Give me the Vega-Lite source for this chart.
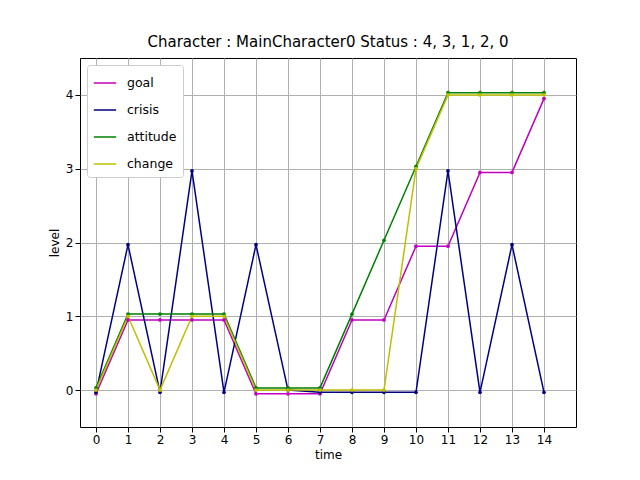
{
  "$schema": "https://vega.github.io/schema/vega-lite/v6.json",
  "width": 496,
  "height": 369,
  "autosize": "none",
  "padding": {"left": 80, "top": 58, "right": 64, "bottom": 53},
  "title": {"text": "Character : MainCharacter0 Status : 4, 3, 1, 2, 0", "font": "DejaVu Sans", "fontSize": 15, "fontWeight": "normal", "offset": 8},
  "config": {
    "view": {"stroke": "black", "strokeWidth": 1},
    "axis": {"labelFont": "DejaVu Sans", "titleFont": "DejaVu Sans", "labelFontSize": 12, "titleFontSize": 12, "titleFontWeight": "normal", "gridColor": "#b0b0b0", "gridOpacity": 1, "domain": false, "tickColor": "black", "labelColor": "black"}
  },
  "data": {"values": [
    {"s":"goal","t":0,"v":-0.05},{"s":"goal","t":1,"v":0.95},{"s":"goal","t":2,"v":0.95},{"s":"goal","t":3,"v":0.95},{"s":"goal","t":4,"v":0.95},{"s":"goal","t":5,"v":-0.05},{"s":"goal","t":6,"v":-0.05},{"s":"goal","t":7,"v":-0.05},{"s":"goal","t":8,"v":0.95},{"s":"goal","t":9,"v":0.95},{"s":"goal","t":10,"v":1.95},{"s":"goal","t":11,"v":1.95},{"s":"goal","t":12,"v":2.95},{"s":"goal","t":13,"v":2.95},{"s":"goal","t":14,"v":3.95},
    {"s":"crisis","t":0,"v":-0.03},{"s":"crisis","t":1,"v":1.97},{"s":"crisis","t":2,"v":-0.03},{"s":"crisis","t":3,"v":2.97},{"s":"crisis","t":4,"v":-0.03},{"s":"crisis","t":5,"v":1.97},{"s":"crisis","t":6,"v":0.0},{"s":"crisis","t":7,"v":-0.03},{"s":"crisis","t":8,"v":-0.03},{"s":"crisis","t":9,"v":-0.03},{"s":"crisis","t":10,"v":-0.03},{"s":"crisis","t":11,"v":2.97},{"s":"crisis","t":12,"v":-0.03},{"s":"crisis","t":13,"v":1.97},{"s":"crisis","t":14,"v":-0.03},
    {"s":"attitude","t":0,"v":0.03},{"s":"attitude","t":1,"v":1.03},{"s":"attitude","t":2,"v":1.03},{"s":"attitude","t":3,"v":1.03},{"s":"attitude","t":4,"v":1.03},{"s":"attitude","t":5,"v":0.03},{"s":"attitude","t":6,"v":0.03},{"s":"attitude","t":7,"v":0.03},{"s":"attitude","t":8,"v":1.03},{"s":"attitude","t":9,"v":2.03},{"s":"attitude","t":10,"v":3.03},{"s":"attitude","t":11,"v":4.03},{"s":"attitude","t":12,"v":4.03},{"s":"attitude","t":13,"v":4.03},{"s":"attitude","t":14,"v":4.03},
    {"s":"change","t":0,"v":0},{"s":"change","t":1,"v":1},{"s":"change","t":2,"v":0},{"s":"change","t":3,"v":1},{"s":"change","t":4,"v":1},{"s":"change","t":5,"v":0},{"s":"change","t":6,"v":0},{"s":"change","t":7,"v":0},{"s":"change","t":8,"v":0},{"s":"change","t":9,"v":0},{"s":"change","t":10,"v":3},{"s":"change","t":11,"v":4},{"s":"change","t":12,"v":4},{"s":"change","t":13,"v":4},{"s":"change","t":14,"v":4}
  ]},
  "mark": {"type": "line", "strokeWidth": 1.5, "point": {"size": 14, "filled": true}},
  "encoding": {
    "x": {"field": "t", "type": "quantitative", "title": "time", "scale": {"domain": [-0.5, 15], "nice": false, "zero": false}, "axis": {"values": [0,1,2,3,4,5,6,7,8,9,10,11,12,13,14], "format": "d"}},
    "y": {"field": "v", "type": "quantitative", "title": "level", "scale": {"domain": [-0.5, 4.5], "nice": false}, "axis": {"values": [0,1,2,3,4], "format": "d"}},
    "color": {"field": "s", "type": "nominal", "sort": ["goal","crisis","attitude","change"],
      "scale": {"domain": ["goal","crisis","attitude","change"], "range": ["#bf00bf","#000080","#008000","#bfbf00"]},
      "legend": {"title": null, "orient": "top-left", "symbolType": "stroke", "symbolStrokeWidth": 1.5, "symbolSize": 500, "labelFont": "DejaVu Sans", "labelFontSize": 12.5, "rowPadding": 8, "labelOffset": 10, "fillColor": "white", "strokeColor": "#cccccc", "padding": 6, "cornerRadius": 3, "offset": 7}},
    "order": {"field": "t", "type": "quantitative"}
  }
}
